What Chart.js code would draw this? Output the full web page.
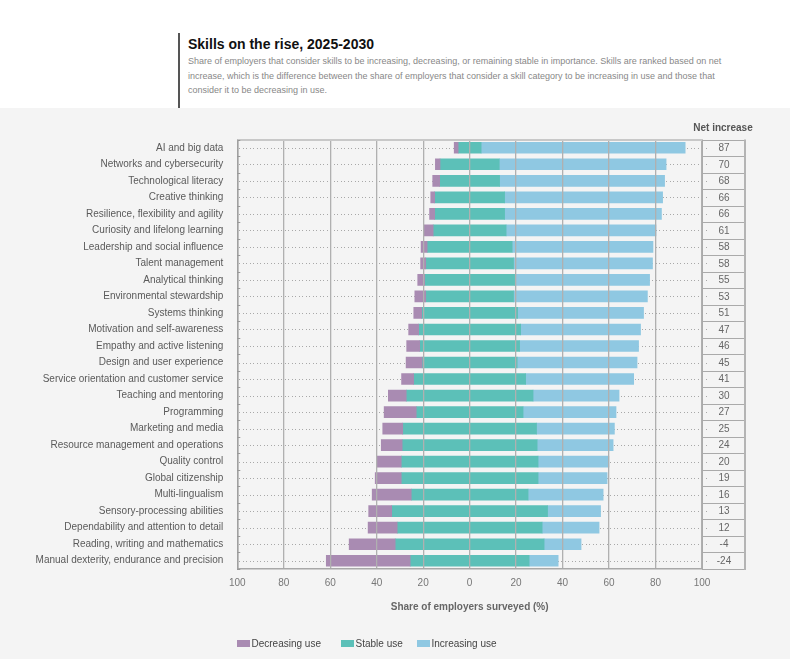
<!DOCTYPE html>
<html>
<head>
<meta charset="utf-8">
<script src="https://cdn.jsdelivr.net/npm/chart.js@4.4.1/dist/chart.umd.min.js"></script>
<style>
  html, body { margin: 0; padding: 0; }
  body { width: 790px; height: 659px; position: relative; overflow: hidden; background: #f4f4f4; font-family: "Liberation Sans", Arial, Helvetica, sans-serif; }
  #header { position: absolute; left: 0; top: 0; width: 790px; height: 108px; background: #ffffff; }
  #bar { position: absolute; left: 178px; top: 33px; width: 1.5px; height: 75px; background: #555; }
  #title { position: absolute; left: 188px; top: 36px; font-size: 14px; font-weight: bold; color: #111; line-height: 16px; white-space: nowrap; }
  #subtitle { position: absolute; left: 188px; top: 54px; font-size: 9px; color: #888; line-height: 14.6px; white-space: nowrap; }
  #wrap { position: absolute; left: 0; top: 0; width: 790px; height: 659px; }
  #c { display: block; }
</style>
</head>
<body>
<div id="header">
  <div id="bar"></div>
  <div id="title">Skills on the rise, 2025-2030</div>
  <div id="subtitle">Share of employers that consider skills to be increasing, decreasing, or remaining stable in importance. Skills are ranked based on net<br>increase, which is the difference between the share of employers that consider a skill category to be increasing in use and those that<br>consider it to be decreasing in use.</div>
</div>
<div id="wrap"><canvas id="c" width="790" height="659"></canvas></div>
<script>
const categories = [
  "AI and big data",
  "Networks and cybersecurity",
  "Technological literacy",
  "Creative thinking",
  "Resilience, flexibility and agility",
  "Curiosity and lifelong learning",
  "Leadership and social influence",
  "Talent management",
  "Analytical thinking",
  "Environmental stewardship",
  "Systems thinking",
  "Motivation and self-awareness",
  "Empathy and active listening",
  "Design and user experience",
  "Service orientation and customer service",
  "Teaching and mentoring",
  "Programming",
  "Marketing and media",
  "Resource management and operations",
  "Quality control",
  "Global citizenship",
  "Multi-lingualism",
  "Sensory-processing abilities",
  "Dependability and attention to detail",
  "Reading, writing and mathematics",
  "Manual dexterity, endurance and precision"
];
const decreasingUse = [1.7, 2.0, 3.0, 1.7, 2.2, 3.9, 2.6, 2.2, 3.0, 4.7, 3.4, 4.3, 5.6, 6.9, 5.2, 7.7, 13.8, 8.6, 9.0, 10.3, 11.2, 16.8, 9.9, 12.5, 19.8, 36.1];
const stableUse = [9.9, 25.5, 25.8, 30.1, 30.1, 31.4, 36.6, 37.8, 38.7, 37.8, 41.3, 43.9, 43.0, 40.9, 48.2, 54.6, 46.0, 57.6, 58.1, 58.9, 58.9, 50.3, 67.1, 62.4, 64.1, 51.2];
const increasingUse = [87.8, 71.8, 71.0, 68.0, 67.5, 64.5, 60.6, 59.8, 58.1, 57.6, 54.2, 51.6, 51.2, 51.6, 46.5, 37.0, 40.0, 33.5, 32.7, 30.5, 29.7, 32.3, 22.8, 24.5, 15.9, 12.5];
const netIncrease = [87, 70, 68, 66, 66, 61, 58, 58, 55, 53, 51, 47, 46, 45, 41, 30, 27, 25, 24, 20, 19, 16, 13, 12, -4, -24];
const xTicks = [-100, -80, -60, -40, -20, 0, 20, 40, 60, 80, 100];

const COLORS = { dec: '#a98bb2', stable: '#5cc0b8', inc: '#8fc8e2' };

// Diverging layout: stable centred on 0, decreasing to the left, increasing to the right
const decRanges = categories.map((_, i) => [-(stableUse[i] / 2 + decreasingUse[i]), -stableUse[i] / 2]);
const stableRanges = categories.map((_, i) => [-stableUse[i] / 2, stableUse[i] / 2]);
const incRanges = categories.map((_, i) => [stableUse[i] / 2, stableUse[i] / 2 + increasingUse[i]]);

const FONT = '"Liberation Sans", Arial, Helvetica, sans-serif';

const decorPlugin = {
  id: 'decor',
  beforeDatasetsDraw(chart) {
    const { ctx, chartArea: a, scales: { y } } = chart;
    ctx.save();
    // dotted row guides
    ctx.fillStyle = '#a8a8a8';
    categories.forEach((_, i) => {
      const py = Math.round(y.getPixelForValue(i));
      for (let px = a.left + 2; px < a.right + 5; px += 3.5) {
        ctx.fillRect(Math.round(px), py, 1, 1);
      }
    });
    ctx.restore();
  },
  afterDraw(chart) {
    const { ctx, chartArea: a, scales: { y } } = chart;
    const boxL = a.right, boxR = a.right + 42;
    const step = (y.getPixelForValue(1) - y.getPixelForValue(0));
    ctx.save();
    // top border of plot
    ctx.fillStyle = '#c8c8c8';
    ctx.fillRect(a.left, Math.round(a.top) - 1, boxL - a.left, 2);
    // net increase box
    ctx.fillStyle = '#f4f4f4';
    ctx.fillRect(boxL + 1, a.top, boxR - boxL - 1, a.bottom - a.top);
    ctx.fillStyle = '#a8a8a8';
    categories.forEach((_, i) => {
      const py = Math.round(y.getPixelForValue(i));
      ctx.fillRect(boxL + 4, py, 1, 1);
    });
    ctx.fillStyle = '#aaaaaa';
    for (let i = 0; i <= categories.length; i++) {
      const py = Math.round(y.getPixelForValue(i) - step / 2);
      ctx.fillRect(boxL, py, boxR - boxL, 1);
    }
    ctx.fillRect(Math.round(boxL), a.top, 1, a.bottom - a.top);
    ctx.fillStyle = '#b4b4b4';
    ctx.fillRect(Math.round(boxR), a.top, 2, a.bottom - a.top + 1);
    // small ticks on left axis at category boundaries
    ctx.fillStyle = '#999';
    for (let i = 0; i <= categories.length; i++) {
      const py = Math.round(y.getPixelForValue(i) - step / 2);
      ctx.fillRect(a.left, py, 3, 1);
    }
    // net increase values
    ctx.fillStyle = '#666';
    ctx.font = '10px ' + FONT;
    ctx.textAlign = 'center';
    ctx.textBaseline = 'middle';
    netIncrease.forEach((v, i) => {
      ctx.fillText(String(v), (boxL + boxR) / 2 + 1, y.getPixelForValue(i) + 0.5);
    });
    ctx.fillStyle = '#555';
    ctx.font = 'bold 10px ' + FONT;
    ctx.fillText('Net increase', (boxL + boxR) / 2, a.top - 11);
    // legend
    const items = [
      { x: 237, label: chart.data.datasets[0].label, color: chart.data.datasets[0].backgroundColor },
      { x: 341, label: chart.data.datasets[1].label, color: chart.data.datasets[1].backgroundColor },
      { x: 417, label: chart.data.datasets[2].label, color: chart.data.datasets[2].backgroundColor }
    ];
    const ly = 643;
    ctx.textAlign = 'left';
    ctx.font = '10px ' + FONT;
    items.forEach(it => {
      ctx.fillStyle = it.color;
      ctx.fillRect(it.x, ly - 3, 13, 7);
      ctx.fillStyle = '#444';
      ctx.fillText(it.label, it.x + 14.5, ly + 1);
    });
    ctx.restore();
  }
};

new Chart(document.getElementById('c'), {
  type: 'bar',
  data: {
    labels: categories,
    datasets: [
      { label: 'Decreasing use', data: decRanges, backgroundColor: COLORS.dec },
      { label: 'Stable use', data: stableRanges, backgroundColor: COLORS.stable },
      { label: 'Increasing use', data: incRanges, backgroundColor: COLORS.inc }
    ]
  },
  options: {
    indexAxis: 'y',
    responsive: false,
    animation: false,
    devicePixelRatio: 1,
    datasets: { bar: { grouped: false, barThickness: 11, borderWidth: 0, borderSkipped: false } },
    layout: { padding: { left: 0, right: 88, top: 139.5, bottom: 42 } },
    plugins: { legend: { display: false }, tooltip: { enabled: false } },
    scales: {
      x: {
        type: 'linear',
        min: -100,
        max: 100,
        afterBuildTicks(scale) { scale.ticks = xTicks.map(v => ({ value: v })); },
        afterFit(scale) { scale.height = 48; },
        grid: { color: '#b0b0b0', lineWidth: 1.3, drawTicks: false, z: 1 },
        border: { display: true, color: '#a8a8a8', width: 1.5, z: 2 },
        ticks: {
          color: '#777',
          font: { size: 10, family: FONT },
          padding: 8,
          callback: v => String(Math.abs(v))
        },
        title: {
          display: true,
          text: 'Share of employers surveyed (%)',
          color: '#666',
          font: { size: 10, weight: 'bold', family: FONT },
          padding: { top: 0, bottom: 4 }
        }
      },
      y: {
        type: 'category',
        afterFit(scale) { scale.width = 237.3; },
        grid: { display: false, drawTicks: false },
        border: { display: true, color: '#a0a0a0', width: 1.5, z: 2 },
        ticks: {
          autoSkip: false,
          color: '#5a5a5a',
          font: { size: 10, family: FONT },
          padding: 14
        }
      }
    }
  },
  plugins: [decorPlugin]
});
</script>
</body>
</html>
